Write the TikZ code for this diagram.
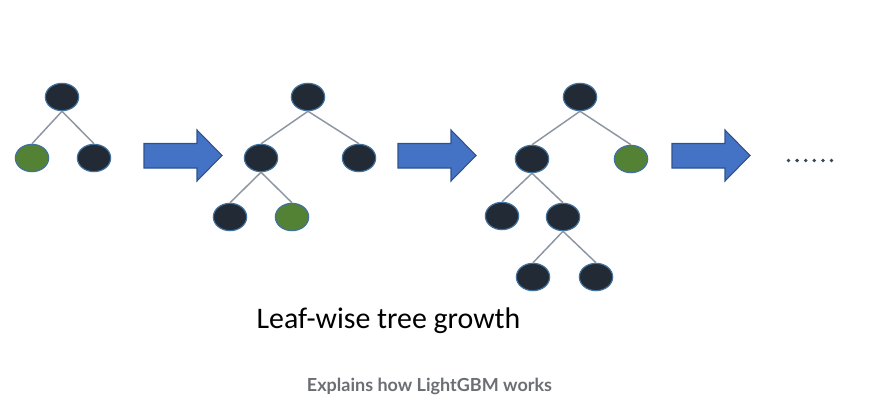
\documentclass[tikz,border=0pt]{standalone}
\usepackage{fontspec}
\setmainfont{Carlito}
\newfontfamily\capfont{Lato}
\usetikzlibrary{shapes.geometric}
\definecolor{nodedark}{HTML}{222A35}
\definecolor{nodegreen}{HTML}{548235}
\definecolor{nodeedge}{HTML}{41719C}
\definecolor{linkgray}{HTML}{8C96A3}
\definecolor{arrowfill}{HTML}{4472C4}
\definecolor{arrowedge}{HTML}{2F528F}
\definecolor{capgray}{HTML}{6B6E73}
\definecolor{dotcolor}{HTML}{3A4556}
\tikzset{
  tnode/.style={ellipse, draw=nodeedge, line width=0.9pt, fill=nodedark,
    minimum width=25pt, minimum height=20.5pt, inner sep=0pt},
  gnode/.style={tnode, fill=nodegreen},
  link/.style={draw=linkgray, line width=1.1pt},
  bigarrow/.style={fill=arrowfill, draw=arrowedge, line width=0.8pt},
}
\begin{document}
\begin{tikzpicture}[x=0.75pt, y=-0.75pt]
\useasboundingbox (0,0) rectangle (895,406);
% tree 1
\node[tnode] (a1) at (62,97) {};
\node[gnode] (a2) at (32,158) {};
\node[tnode] (a3) at (94,158) {};
\draw[link] (a1.south) -- (a2.north);
\draw[link] (a1.south) -- (a3.north);
% tree 2
\node[tnode] (b1) at (308,97) {};
\node[tnode] (b2) at (261,158) {};
\node[tnode] (b3) at (359,158) {};
\node[tnode] (b4) at (230,217) {};
\node[gnode] (b5) at (292,217) {};
\draw[link] (b1.south) -- (b2.north);
\draw[link] (b1.south) -- (b3.north);
\draw[link] (b2.south) -- (b4.north);
\draw[link] (b2.south) -- (b5.north);
% tree 3
\node[tnode] (c1) at (580,97) {};
\node[tnode] (c2) at (532,159) {};
\node[gnode] (c3) at (631,159) {};
\node[tnode] (c4) at (502,216) {};
\node[tnode] (c5) at (563,217) {};
\node[tnode] (c6) at (533,277) {};
\node[tnode] (c7) at (596,277) {};
\draw[link] (c1.south) -- (c2.north);
\draw[link] (c1.south) -- (c3.north);
\draw[link] (c2.south) -- (c4.north);
\draw[link] (c2.south) -- (c5.north);
\draw[link] (c5.south) -- (c6.north);
\draw[link] (c5.south) -- (c7.north);
% arrows
\foreach \xo in {144,398,672}{
  \draw[bigarrow] (\xo,143.5) -- (\xo+53,143.5) -- (\xo+53,130) -- (\xo+78,155.5)
    -- (\xo+53,181) -- (\xo+53,168) -- (\xo,168) -- cycle;
}
% dots
\foreach \i in {0,...,5}{
  \fill[dotcolor] (788.5+8.6*\i,160.5) circle (1.9);
}
\node[font=\fontsize{22.4}{26}\selectfont, inner sep=0pt, anchor=base] (title) at (388.5,328) {Leaf-wise tree growth};
\node[font=\capfont\bfseries\fontsize{13.5}{16}\selectfont, text=capgray, inner sep=0pt, anchor=base] (cap) at (429.5,391.5) {Explains how LightGBM works};
\end{tikzpicture}
\end{document}
